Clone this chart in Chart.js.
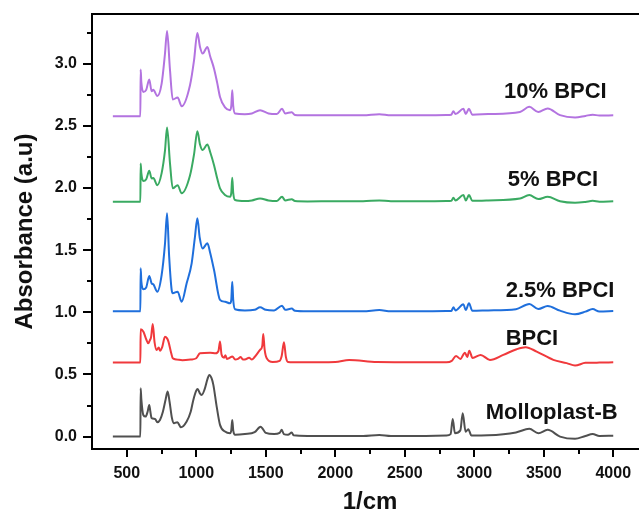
<!DOCTYPE html>
<html>
<head>
<meta charset="utf-8">
<script src="https://cdn.jsdelivr.net/npm/chart.js@4.4.0/dist/chart.umd.min.js"></script>
<style>
  html, body { margin: 0; padding: 0; background: #fff; overflow: hidden; }
  #wrap { width: 648px; height: 514px; }
</style>
</head>
<body>
<div id="wrap"><canvas id="ftir" width="648" height="514"></canvas></div>
<script>
// wavenumber (1/cm), absorbance (a.u)
const molloplast = [
  [400,0],[598,0],[600,0.389],[605,0.3],[619,0.174],[636,0.161],[650,0.2],[662,0.255],[670,0.2],[679,0.148],
  [703,0.142],[720,0.116],[739,0.134],[760,0.2],[780,0.3],[794,0.362],[808,0.28],[825,0.15],[840,0.108],[864,0.116],
  [890,0.075],[931,0.121],[960,0.2],[979,0.295],[1000,0.37],[1010,0.383],[1025,0.35],[1039,0.335],[1060,0.38],[1080,0.46],
  [1094,0.496],[1110,0.47],[1123,0.416],[1147,0.241],[1171,0.094],[1207,0.04],[1243,0.027],[1252,0.05],[1259,0.134],[1266,0.05],
  [1279,0.014],[1350,0.02],[1420,0.035],[1463,0.08],[1500,0.03],[1560,0.02],[1600,0.03],[1615,0.054],[1630,0.02],[1660,0.015],
  [1687,0.032],[1700,0.01],[1800,0.005],[2000,0.005],[2200,0.005],[2317,0.013],[2400,0.005],[2600,0.005],[2800,0.008],[2830,0.02],
  [2845,0.142],[2861,0.027],[2900,0.05],[2917,0.188],[2938,0.038],[2957,0.059],[2980,0.008],[3100,0.01],[3300,0.033],[3396,0.062],
  [3461,0.027],[3528,0.054],[3617,0],[3725,-0.018],[3800,0.005],[3852,0.02],[3900,0.005],[4000,0.006]
];
const bpci = [
  [400,0.595],[598,0.595],[600,0.863],[620,0.844],[640,0.783],[655,0.751],[665,0.772],[675,0.8],[687,0.906],[700,0.76],
  [715,0.697],[730,0.717],[739,0.691],[755,0.72],[775,0.804],[790,0.79],[800,0.764],[820,0.67],[831,0.63],[860,0.62],
  [900,0.614],[960,0.62],[1000,0.63],[1027,0.67],[1100,0.675],[1140,0.67],[1160,0.69],[1171,0.764],[1182,0.66],[1200,0.635],
  [1210,0.655],[1220,0.625],[1235,0.63],[1260,0.645],[1280,0.62],[1300,0.625],[1320,0.64],[1335,0.62],[1350,0.62],[1380,0.635],
  [1400,0.62],[1420,0.64],[1459,0.697],[1475,0.73],[1482,0.826],[1492,0.7],[1507,0.63],[1550,0.6],[1600,0.61],[1615,0.65],
  [1631,0.759],[1645,0.64],[1660,0.6],[1750,0.597],[2000,0.6],[2100,0.617],[2300,0.6],[2600,0.598],[2800,0.598],[2838,0.609],
  [2869,0.649],[2900,0.625],[2933,0.675],[2950,0.64],[2964,0.691],[2988,0.632],[3046,0.657],[3113,0.617],[3209,0.657],[3305,0.703],
  [3370,0.719],[3449,0.684],[3569,0.617],[3665,0.591],[3725,0.571],[3800,0.593],[3900,0.595],[4000,0.597]
];
const bpci25 = [
  [400,1.008],[598,1.008],[600,1.354],[605,1.25],[619,1.185],[640,1.2],[662,1.292],[679,1.233],[691,1.225],[720,1.166],
  [751,1.3],[775,1.55],[790,1.796],[805,1.45],[823,1.18],[831,1.153],[866,1.166],[895,1.085],[931,1.233],[967,1.394],
  [990,1.6],[1008,1.756],[1025,1.6],[1046,1.514],[1080,1.555],[1100,1.48],[1128,1.34],[1171,1.1],[1207,1.085],[1243,1.072],
  [1252,1.1],[1259,1.246],[1266,1.1],[1279,1.024],[1350,1.015],[1420,1.02],[1459,1.04],[1500,1.02],[1560,1.015],[1617,1.053],
  [1640,1.02],[1687,1.03],[1710,1.012],[1800,1.008],[2000,1.008],[2200,1.008],[2317,1.018],[2400,1.008],[2600,1.008],[2800,1.01],
  [2835,1.01],[2850,1.04],[2865,1.015],[2922,1.064],[2939,1.018],[2962,1.072],[2986,1.012],[3100,1.015],[3300,1.025],[3396,1.067],
  [3461,1.026],[3528,1.051],[3617,1.013],[3725,0.984],[3800,1.005],[3852,1.026],[3900,1.006],[4000,1.01]
];
const bpci5 = [
  [400,1.889],[598,1.889],[600,2.198],[605,2.12],[619,2.056],[640,2.07],[662,2.138],[679,2.077],[691,2.08],[720,2.023],
  [751,2.12],[775,2.3],[790,2.487],[811,2.2],[831,1.997],[866,2.023],[895,1.957],[955,2.1],[984,2.27],[1008,2.457],
  [1027,2.35],[1046,2.305],[1080,2.35],[1100,2.29],[1128,2.184],[1150,2.08],[1171,1.997],[1207,1.943],[1243,1.929],[1252,1.96],
  [1259,2.082],[1266,1.96],[1279,1.903],[1350,1.895],[1400,1.9],[1459,1.916],[1520,1.9],[1580,1.895],[1617,1.929],[1640,1.9],
  [1687,1.91],[1710,1.895],[1800,1.892],[2000,1.893],[2200,1.893],[2317,1.9],[2400,1.893],[2600,1.893],[2800,1.895],[2835,1.897],
  [2850,1.921],[2865,1.9],[2922,1.943],[2939,1.9],[2962,1.943],[2986,1.897],[3100,1.9],[3329,1.915],[3396,1.943],[3461,1.911],
  [3528,1.929],[3617,1.893],[3725,1.881],[3800,1.888],[3852,1.897],[3900,1.89],[4000,1.894]
];
const bpci10 = [
  [400,2.578],[598,2.578],[600,2.953],[605,2.85],[619,2.773],[640,2.79],[662,2.873],[679,2.779],[691,2.79],[720,2.74],
  [751,2.84],[775,3.08],[790,3.264],[811,2.95],[831,2.712],[866,2.728],[895,2.658],[955,2.827],[984,3.027],[1008,3.248],
  [1027,3.135],[1046,3.082],[1080,3.135],[1100,3.06],[1128,2.96],[1150,2.85],[1171,2.733],[1207,2.648],[1243,2.626],[1252,2.66],
  [1259,2.787],[1266,2.66],[1279,2.6],[1350,2.594],[1400,2.6],[1459,2.626],[1520,2.6],[1580,2.595],[1617,2.637],[1640,2.6],
  [1687,2.61],[1710,2.588],[1800,2.585],[2000,2.585],[2200,2.585],[2317,2.594],[2400,2.585],[2600,2.585],[2800,2.587],[2835,2.59],
  [2850,2.618],[2865,2.595],[2922,2.637],[2939,2.596],[2962,2.637],[2986,2.59],[3100,2.595],[3329,2.612],[3396,2.653],[3461,2.612],
  [3528,2.64],[3617,2.586],[3725,2.567],[3800,2.58],[3852,2.59],[3900,2.583],[4000,2.585]
];

const seriesNames  = ["Molloplast-B", "BPCI", "2.5% BPCI", "5% BPCI", "10% BPCI"];
const seriesData   = [molloplast, bpci, bpci25, bpci5, bpci10];
const xTicks = [500, 1000, 1500, 2000, 2500, 3000, 3500, 4000];
const yTicks = [0, 0.5, 1.0, 1.5, 2.0, 2.5, 3.0];

// look
const COLORS = ["#505050", "#f0393c", "#1f6fdc", "#3aaa62", "#b373e0"];
// where each name sits (wavenumber of left edge, absorbance of baseline)
const NAME_AT = [[3082, 0.142], [3226, 0.737], [3226, 1.125], [3241, 2.015], [3214, 2.725]];
const FONT = "'Liberation Sans', Arial, Helvetica, sans-serif";

const frameAndTicks = {
  id: "frameAndTicks",
  afterDraw(chart) {
    const { ctx, chartArea: a, scales: { x, y } } = chart;
    ctx.save();
    ctx.strokeStyle = "#000";
    ctx.lineWidth = 2;
    ctx.beginPath();
    ctx.moveTo(a.left - 1, a.top);
    ctx.lineTo(a.right, a.top);
    ctx.stroke();

    const xMinor = xTicks.map(v => v + 250).filter(v => v < x.max);
    const yMinor = yTicks.map(v => v + 0.25).filter(v => v < y.max);
    ctx.beginPath();
    xTicks.forEach(v => { const p = Math.round(x.getPixelForValue(v)); ctx.moveTo(p, a.bottom); ctx.lineTo(p, a.bottom + 8); });
    xMinor.forEach(v => { const p = Math.round(x.getPixelForValue(v)); ctx.moveTo(p, a.bottom); ctx.lineTo(p, a.bottom + 5); });
    yTicks.forEach(v => { const p = Math.round(y.getPixelForValue(v)); ctx.moveTo(a.left, p); ctx.lineTo(a.left - 9, p); });
    yMinor.forEach(v => { const p = Math.round(y.getPixelForValue(v)); ctx.moveTo(a.left, p); ctx.lineTo(a.left - 5, p); });
    ctx.stroke();

    ctx.fillStyle = "#111";
    ctx.font = "bold 22px " + FONT;
    ctx.textAlign = "left";
    ctx.textBaseline = "alphabetic";
    seriesNames.forEach((name, i) => {
      const [wx, wy] = NAME_AT[i];
      ctx.fillText(name, x.getPixelForValue(wx), y.getPixelForValue(wy));
    });
    ctx.restore();
  }
};

new Chart(document.getElementById("ftir"), {
  type: "line",
  data: {
    datasets: seriesData.map((d, i) => ({
      label: seriesNames[i],
      data: d.map(p => ({ x: p[0], y: p[1] })),
      borderColor: COLORS[i],
      borderWidth: 2,
      pointRadius: 0,
      fill: false,
      cubicInterpolationMode: "monotone"
    }))
  },
  options: {
    responsive: false,
    animation: false,
    layout: { padding: { top: 14, right: 0, left: 0, bottom: 0 } },
    plugins: { legend: { display: false }, tooltip: { enabled: false } },
    scales: {
      x: {
        type: "linear", min: 250, max: 4250,
        grid: { display: false, drawTicks: false },
        border: { display: true, color: "#000", width: 2 },
        afterBuildTicks: s => { s.ticks = xTicks.map(v => ({ value: v })); },
        afterFit: s => { s.height = 65; s.paddingLeft = 0; s.paddingRight = 0; },
        ticks: { color: "#111", padding: 15, maxRotation: 0, autoSkip: false,
                 callback: v => String(v),
                 font: { family: FONT, size: 16, weight: "bold" } },
        title: { display: true, text: "1/cm", color: "#111", padding: 0,
                 font: { family: FONT, size: 24, weight: "bold", lineHeight: 1 } }
      },
      y: {
        min: -0.1, max: 3.4,
        grid: { display: false, drawTicks: false },
        border: { display: true, color: "#000", width: 2 },
        afterBuildTicks: s => { s.ticks = yTicks.map(v => ({ value: v })); },
        afterFit: s => { s.width = 92; s.paddingTop = 0; s.paddingBottom = 0; },
        ticks: { color: "#111", padding: 15, autoSkip: false,
                 callback: v => v.toFixed(1),
                 font: { family: FONT, size: 16, weight: "bold" } },
        title: { display: true, text: "Absorbance (a.u)", color: "#111", padding: { top: 13, bottom: 13 },
                 font: { family: FONT, size: 24, weight: "bold", lineHeight: 1 } }
      }
    }
  },
  plugins: [frameAndTicks]
});
</script>
</body>
</html>
